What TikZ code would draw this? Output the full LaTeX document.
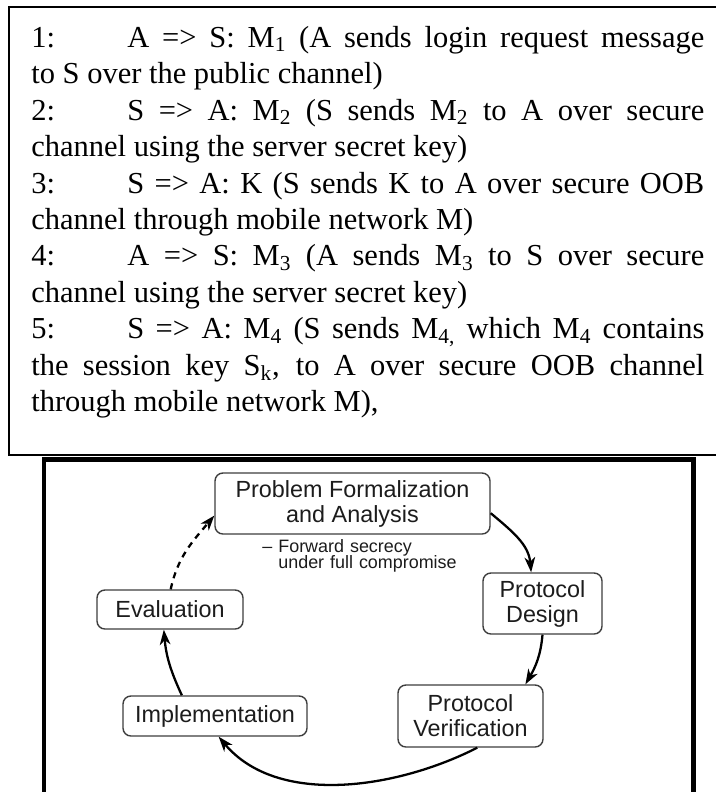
\documentclass[tikz,border=0pt]{standalone}
\usepackage{fontspec}
\setmainfont{Liberation Serif}
\newfontfamily\diagfont{Liberation Sans}
\usepackage{tikz}
\usetikzlibrary{arrows,arrows.meta}
\usetikzlibrary{calc}
\definecolor{boxline}{RGB}{62,62,62}
\definecolor{boxtext}{RGB}{28,28,28}
\newcommand{\steptext}{\fontsize{17.35pt}{20.77pt}\selectfont}
\newcommand{\stagetext}{\diagfont\fontsize{13.3pt}{14.2pt}\selectfont}
\newcommand{\notetext}{\diagfont\fontsize{10.2pt}{9.4pt}\selectfont\lineskiplimit=-5pt}
\newcommand{\steplabel}[1]{\makebox[1.92cm][l]{#1}}

\begin{document}
\begin{tikzpicture}[>=Stealth,
	stage/.style={draw=boxline, text=boxtext, rounded corners=4.5pt, line width=0.8pt, inner sep=0pt, align=center, font=\stagetext},
	flow/.style={line width=1.3pt, -{Stealth[length=8.5pt,width=6pt,inset=2.5pt]}}]

	\fill[white] (0,0) rectangle (14.32,-15.84);
	\clip (0,0) rectangle (14.32,-15.84);

	% protocol steps
	\draw[line width=1.1pt] (0.18,-0.14) rectangle (14.6,-9.10);
	\node[anchor=base west, text width=13.46cm, align=justify, inner sep=0pt, font=\steptext] (steps) at (0.62,-0.94) {%
		\steplabel{1:}A => S: M\textsubscript{1} (A sends login request message\linebreak to S over the public channel)\par
		\steplabel{2:}S => A: M\textsubscript{2} (S sends M\textsubscript{2} to A over secure\linebreak channel using the server secret key)\par
		\steplabel{3:}S => A: K (S sends K to A over secure OOB\linebreak channel through mobile network M)\par
		\steplabel{4:}A => S: M\textsubscript{3} (A sends M\textsubscript{3} to S over secure\linebreak channel using the server secret key)\par
		\steplabel{5:}S => A: M\textsubscript{4} (S sends M\textsubscript{4,} which M\textsubscript{4} contains\linebreak the session key S\textsubscript{k}, to A over secure OOB channel\linebreak through mobile network M),\par};

	% design cycle
	\begin{scope}
		\draw[line width=2.3pt] (0.88,-9.19) rectangle (13.87,-16.3);

		\node[stage, minimum width=5.5cm, minimum height=1.22cm] (prob) at (7.05,-10.07) {Problem Formalization\\and Analysis};
		\node[stage, minimum width=2.38cm, minimum height=1.22cm] (design) at (10.85,-12.07) {Protocol\\Design};
		\node[stage, minimum width=2.9cm, minimum height=1.24cm] (verif) at (9.41,-14.32) {Protocol\\Verification};
		\node[stage, minimum width=3.68cm, minimum height=0.8cm] (impl) at (4.30,-14.32) {Implementation};
		\node[stage, minimum width=2.92cm, minimum height=0.78cm] (eval) at (3.40,-12.19) {Evaluation};

		\node[anchor=north west, text width=4.2cm, align=left, inner sep=0pt, text=boxtext, font=\notetext] (note) at (5.56,-10.78) {\llap{– }Forward secrecy\\under full compromise};

		\draw[flow] (prob.-4) to[out=-40, in=95] (design.110);
		\draw[flow] (design.-90) to[out=-95, in=60] (verif.30);
		\draw[flow] (verif.-78) to[out=-153, in=-50, looseness=0.9] (impl.-80);
		\draw[flow] (impl.148) to[out=115, in=-85] (eval.-107);
		\draw[flow, dash pattern=on 3.5pt off 3pt] (eval.88) to[out=78, in=-130] (prob.185);
	\end{scope}

\end{tikzpicture}
\end{document}
